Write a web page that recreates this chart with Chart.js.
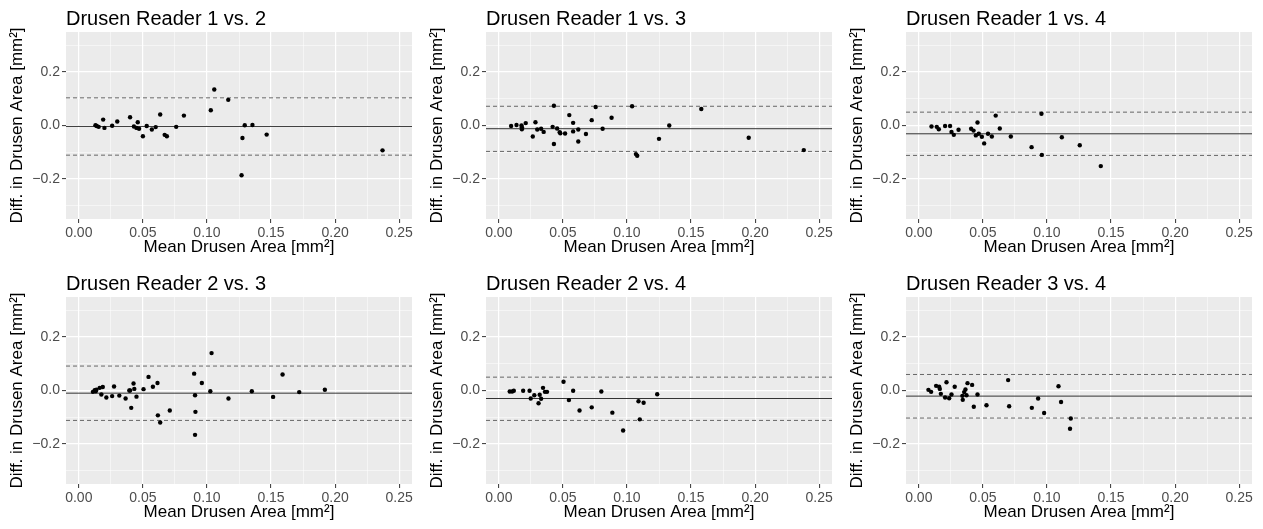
<!DOCTYPE html>
<html>
<head>
<meta charset="utf-8">
<script src="https://cdn.jsdelivr.net/npm/chart.js@4.4.0/dist/chart.umd.min.js"></script>
<style>
  body { margin: 0; background: #fff; }
  #figure { position: relative; width: 1263px; height: 529px; overflow: hidden; }
  #figure canvas { position: absolute; }
</style>
</head>
<body>
<div id="figure"></div>
<script>
// Bland-Altman panels: x = mean drusen area, y = difference between readers
const panelTitles = [
  'Drusen Reader 1 vs. 2', 'Drusen Reader 1 vs. 3', 'Drusen Reader 1 vs. 4',
  'Drusen Reader 2 vs. 3', 'Drusen Reader 2 vs. 4', 'Drusen Reader 3 vs. 4',
];

const xMajorTicks = [0, 0.05, 0.1, 0.15, 0.2, 0.25];
const xMinorTicks = [0.025, 0.075, 0.125, 0.175, 0.225];
const yMajorTicks = [-0.2, 0, 0.2];
const yMinorTicks = [-0.3, -0.1, 0.1, 0.3];
const xLimits = [-0.01, 0.26];
const yLimits = [-0.35, 0.35];

const r12Mean = [0.013, 0.014, 0.0155, 0.019, 0.020, 0.026, 0.030, 0.040, 0.043, 0.045, 0.046, 0.047, 0.050, 0.053, 0.057,
  0.060, 0.0635, 0.067, 0.0687, 0.076, 0.082, 0.103, 0.1057, 0.1166, 0.127, 0.1277, 0.1295, 0.1355, 0.1466, 0.237];
const r12Diff = [0.001, -0.002, -0.005, 0.022, -0.009, -0.001, 0.015, 0.031, -0.004, -0.009, 0.012, -0.012, -0.040, -0.002, -0.015,
  -0.006, 0.041, -0.035, -0.040, -0.005, 0.037, 0.057, 0.135, 0.096, -0.186, -0.047, 0.001, 0.002, -0.034, -0.093];

const r13Mean = [0.0096, 0.0138, 0.0177, 0.018, 0.018, 0.021, 0.0265, 0.0286, 0.030, 0.033, 0.035, 0.042, 0.043, 0.043, 0.0455,
  0.0475, 0.048, 0.0517, 0.055, 0.058, 0.058, 0.062, 0.062, 0.068, 0.0725, 0.0756, 0.081, 0.088, 0.104, 0.107, 0.108,
  0.125, 0.133, 0.158, 0.195, 0.238];
const r13Diff = [-0.002, 0.002, 0.000, -0.007, -0.014, 0.009, -0.041, 0.012, -0.015, -0.012, -0.024, -0.005, -0.069, 0.074, -0.011,
  -0.025, -0.029, -0.030, 0.039, 0.010, -0.022, -0.015, -0.060, -0.032, 0.020, 0.069, -0.012, 0.029, 0.072, -0.107, -0.113,
  -0.050, 0.000, 0.062, -0.046, -0.092];

const r14Mean = [0.0099, 0.014, 0.0156, 0.0205, 0.0244, 0.0255, 0.0273, 0.031, 0.0408, 0.0427, 0.0445, 0.0458, 0.0468, 0.0492,
  0.051, 0.054, 0.057, 0.060, 0.0632, 0.0718, 0.088, 0.0957, 0.096, 0.1116, 0.1256, 0.142];
const r14Diff = [-0.004, -0.005, -0.014, -0.002, -0.002, -0.024, -0.035, -0.016, -0.012, -0.019, -0.037, 0.011, -0.031, -0.042,
  -0.067, -0.031, -0.041, 0.037, -0.011, -0.041, -0.081, 0.044, -0.110, -0.044, -0.074, -0.152];

const r23Mean = [0.011, 0.0124, 0.0132, 0.0137, 0.0163, 0.0176, 0.0187, 0.0215, 0.026, 0.0275, 0.0316, 0.0365, 0.0394, 0.040,
  0.0409, 0.0427, 0.0433, 0.045, 0.0505, 0.0544, 0.0578, 0.0614, 0.0617, 0.0635, 0.071, 0.090, 0.0907, 0.091, 0.0907, 0.096,
  0.1026, 0.1036, 0.1168, 0.135, 0.1516, 0.159, 0.172, 0.192];
const r23Diff = [-0.005, 0.001, -0.003, 0.003, 0.010, -0.015, 0.013, -0.026, -0.021, 0.015, -0.019, -0.030, 0.000, 0.000,
  -0.065, 0.026, 0.006, -0.023, 0.005, 0.051, 0.014, 0.028, -0.093, -0.120, -0.075, 0.063, -0.018, -0.080, -0.166, 0.028,
  -0.003, 0.140, -0.030, -0.003, -0.024, 0.060, -0.006, 0.003];

const r24Mean = [0.0085, 0.0104, 0.0117, 0.019, 0.024, 0.0249, 0.0277, 0.031, 0.0319, 0.033, 0.0345, 0.036, 0.0376, 0.0505,
  0.0547, 0.058, 0.063, 0.0725, 0.080, 0.0886, 0.097, 0.109, 0.110, 0.113, 0.1236];
const r24Diff = [-0.004, -0.004, -0.001, -0.001, -0.001, -0.030, -0.018, -0.048, -0.016, -0.031, 0.010, -0.005, -0.005, 0.033,
  -0.036, -0.001, -0.075, -0.063, -0.004, -0.083, -0.150, -0.040, -0.108, -0.046, -0.014];

const r34Mean = [0.0075, 0.0096, 0.0135, 0.0159, 0.0164, 0.0172, 0.0205, 0.0216, 0.0237, 0.0255, 0.028, 0.034, 0.0343, 0.0354,
  0.0364, 0.0372, 0.038, 0.0416, 0.0429, 0.0458, 0.0528, 0.0697, 0.0705, 0.0882, 0.0931, 0.0978, 0.109, 0.111, 0.1186, 0.118];
const r34Diff = [0.0025, -0.005, 0.0175, 0.014, 0.006, -0.0125, -0.026, 0.031, -0.029, -0.015, 0.014, -0.020, -0.035, -0.006,
  0.004, -0.0175, 0.0275, 0.021, -0.061, -0.015, -0.055, 0.039, -0.059, -0.065, -0.030, -0.084, 0.016, -0.043, -0.105, -0.143];

const meanValues = [r12Mean, r13Mean, r14Mean, r23Mean, r24Mean, r34Mean];
const diffValues = [r12Diff, r13Diff, r14Diff, r23Diff, r24Diff, r34Diff];
const biasValues = [-0.0035, -0.012, -0.031, -0.010, -0.030, -0.021];
const upperLimits = [0.1035, 0.072, 0.050, 0.0915, 0.050, 0.060];
const lowerLimits = [-0.111, -0.097, -0.112, -0.112, -0.112, -0.103];

const FONT = '"Liberation Sans", Arial, Helvetica, sans-serif';
const xTicksAll = [...xMajorTicks, ...xMinorTicks].sort((a, b) => a - b);
const yTicksAll = [...yMajorTicks, ...yMinorTicks].sort((a, b) => a - b);

// grey panel background like ggplot
const panelBg = {
  id: 'panelBg',
  beforeDraw(chart) {
    const { ctx, chartArea: a } = chart;
    ctx.save();
    ctx.fillStyle = '#EBEBEB';
    ctx.fillRect(a.left, a.top, a.right - a.left, a.bottom - a.top);
    ctx.restore();
  },
};

// title aligned with the panel's left edge
const panelTitle = {
  id: 'panelTitle',
  afterDraw(chart, args, opts) {
    const { ctx, chartArea } = chart;
    ctx.save();
    ctx.font = '20px ' + FONT;
    ctx.fillStyle = '#000';
    ctx.textBaseline = 'alphabetic';
    ctx.fillText(opts.text, chartArea.left, chartArea.top - 7);
    ctx.restore();
  },
};

function hLine(value, color, dash) {
  return {
    type: 'line',
    data: [{ x: xLimits[0], y: value }, { x: xLimits[1], y: value }],
    borderColor: color,
    borderWidth: 1,
    borderDash: dash,
    pointRadius: 0,
    showLine: true,
    order: 2,
  };
}

function gridOpts(majors) {
  return {
    color: '#FFFFFF',
    lineWidth: (c) => (c.tick && majors.includes(c.tick.value) ? 1.2 : 0.5),
    tickColor: (c) => (c.tick && majors.includes(c.tick.value) ? '#333333' : 'rgba(0,0,0,0)'),
    tickWidth: 1,
    tickLength: 4,
    drawTicks: true,
  };
}

const cols = [0, 420, 840];
const rows = [0, 265];
const figure = document.getElementById('figure');

panelTitles.forEach((title, i) => {
  const canvas = document.createElement('canvas');
  canvas.width = 421;
  canvas.height = 264;
  canvas.style.left = cols[i % 3] + 'px';
  canvas.style.top = rows[Math.floor(i / 3)] + 'px';
  figure.appendChild(canvas);

  const points = meanValues[i].map((x, k) => ({ x, y: diffValues[i][k] }));

  new Chart(canvas, {
    type: 'scatter',
    data: {
      datasets: [
        {
          data: points,
          pointRadius: 2.2,
          pointBackgroundColor: '#000',
          pointBorderWidth: 0,
          order: 1,
        },
        hLine(biasValues[i], '#333333', []),
        hLine(upperLimits[i], '#666666', [4, 3]),
        hLine(lowerLimits[i], '#666666', [4, 3]),
      ],
    },
    options: {
      responsive: false,
      animation: false,
      devicePixelRatio: 1,
      layout: { padding: { top: 32, right: 9, left: 0, bottom: 0 } },
      plugins: {
        legend: { display: false },
        tooltip: { enabled: false },
        panelTitle: { text: title },
      },
      scales: {
        x: {
          type: 'linear',
          min: xLimits[0],
          max: xLimits[1],
          afterBuildTicks: (s) => { s.ticks = xTicksAll.map((v) => ({ value: v })); },
          afterFit: (s) => { s.height = 45; },
          border: { display: false },
          grid: gridOpts(xMajorTicks),
          ticks: {
            autoSkip: false,
            maxRotation: 0,
            padding: 2,
            color: '#4D4D4D',
            font: { family: FONT, size: 14 },
            callback: (v) => (xMajorTicks.includes(v) ? v.toFixed(2) : ''),
          },
          title: {
            display: true,
            text: 'Mean Drusen Area [mm²]',
            color: '#000',
            font: { family: FONT, size: 17 },
            padding: { top: 0, bottom: 6 },
          },
        },
        y: {
          type: 'linear',
          min: yLimits[0],
          max: yLimits[1],
          afterBuildTicks: (s) => { s.ticks = yTicksAll.map((v) => ({ value: v })); },
          afterFit: (s) => { s.width = 66; },
          border: { display: false },
          grid: gridOpts(yMajorTicks),
          ticks: {
            autoSkip: false,
            padding: 2,
            color: '#4D4D4D',
            font: { family: FONT, size: 14 },
            callback: (v) => (yMajorTicks.includes(v) ? v.toFixed(1).replace('-', '\u2212') : ''),
          },
          title: {
            display: true,
            text: 'Diff. in Drusen Area [mm²]',
            color: '#000',
            font: { family: FONT, size: 17 },
            padding: { top: 7, bottom: 0 },
          },
        },
      },
    },
    plugins: [panelBg, panelTitle],
  });
});
</script>
</body>
</html>
